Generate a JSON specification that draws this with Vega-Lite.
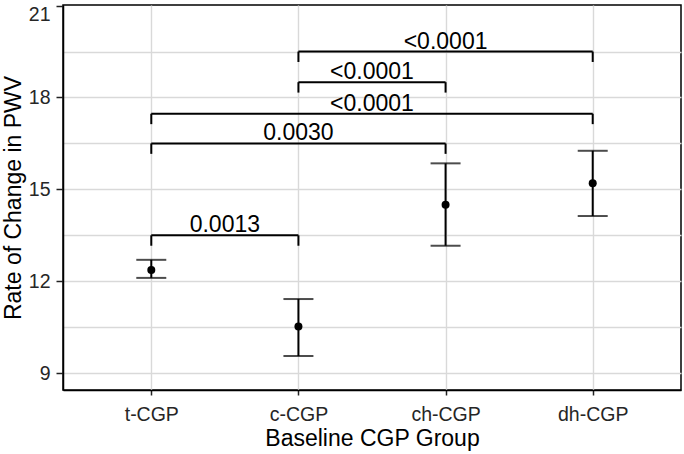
{
  "$schema": "https://vega.github.io/schema/vega-lite/v6.json",
  "width": 618,
  "height": 385,
  "autosize": {"type": "none"},
  "padding": {"left": 63, "top": 5, "right": 3, "bottom": 64},
  "background": "white",
  "config": {
    "view": {"stroke": "black", "strokeWidth": 1.5},
    "font": "Liberation Sans",
    "axis": {
      "gridColor": "#d9d9d9",
      "gridWidth": 1.4,
      "domainColor": "black",
      "domainWidth": 1.5,
      "tickColor": "#222222",
      "tickWidth": 1.5,
      "tickSize": 5,
      "labelFont": "Liberation Sans",
      "labelFontSize": 19.5,
      "labelColor": "#262626",
      "titleFont": "Liberation Sans",
      "titleFontSize": 23,
      "titleFontWeight": "normal",
      "titleColor": "black"
    }
  },
  "datasets": {
    "pts": [
      {"group": "t-CGP", "idx": 1, "mean": 12.37, "lo": 12.11, "hi": 12.70},
      {"group": "c-CGP", "idx": 2, "mean": 10.52, "lo": 9.56, "hi": 11.42},
      {"group": "ch-CGP", "idx": 3, "mean": 14.50, "lo": 13.16, "hi": 15.85},
      {"group": "dh-CGP", "idx": 4, "mean": 15.20, "lo": 14.13, "hi": 16.26}
    ],
    "br": [
      {"i1": 1, "i2": 2, "mid": 1.5, "y": 13.5, "yb": 13.16, "p": "0.0013"},
      {"i1": 1, "i2": 3, "mid": 2.0, "y": 16.5, "yb": 16.16, "p": "0.0030"},
      {"i1": 1, "i2": 4, "mid": 2.5, "y": 17.47, "yb": 17.13, "p": "<0.0001"},
      {"i1": 2, "i2": 3, "mid": 2.5, "y": 18.5, "yb": 18.16, "p": "<0.0001"},
      {"i1": 2, "i2": 4, "mid": 3.0, "y": 19.5, "yb": 19.16, "p": "<0.0001"}
    ]
  },
  "encoding": {
    "x": {
      "type": "quantitative",
      "scale": {"domain": [0.4, 4.6], "nice": false, "zero": false},
      "axis": {
        "title": "Baseline CGP Group",
        "values": [1, 2, 3, 4],
        "labelExpr": "['','t-CGP','c-CGP','ch-CGP','dh-CGP'][datum.value]",
        "labelPadding": 10,
        "titlePadding": 4
      }
    },
    "y": {
      "type": "quantitative",
      "scale": {"domain": [8.45, 21.02], "nice": false, "zero": false},
      "axis": {
        "title": "Rate of Change in PWV",
        "values": [9, 10.5, 12, 13.5, 15, 16.5, 18, 19.5, 21],
        "labelExpr": "datum.value % 3 == 0 ? datum.label : ''",
        "labelFlush": true,
        "tickSize": 7,
        "tickColor": {"condition": {"test": "datum.value % 3 == 0", "value": "#222222"}, "value": "transparent"},
        "gridColor": {"condition": {"test": "datum.value == 21", "value": "transparent"}, "value": "#d9d9d9"},
        "labelPadding": 6,
        "titlePadding": 3
      }
    }
  },
  "layer": [
    {
      "data": {"name": "pts"},
      "mark": {"type": "rule", "color": "black", "strokeWidth": 2},
      "encoding": {"x": {"field": "idx"}, "y": {"field": "lo"}, "y2": {"field": "hi"}}
    },
    {
      "data": {"name": "pts"},
      "mark": {"type": "tick", "orient": "horizontal", "color": "black", "size": 30, "thickness": 2},
      "encoding": {"x": {"field": "idx"}, "y": {"field": "lo"}}
    },
    {
      "data": {"name": "pts"},
      "mark": {"type": "tick", "orient": "horizontal", "color": "black", "size": 30, "thickness": 2},
      "encoding": {"x": {"field": "idx"}, "y": {"field": "hi"}}
    },
    {
      "data": {"name": "pts"},
      "mark": {"type": "circle", "color": "black", "size": 64, "opacity": 1},
      "encoding": {"x": {"field": "idx"}, "y": {"field": "mean"}}
    },
    {
      "data": {"name": "br"},
      "mark": {"type": "rule", "color": "black", "strokeWidth": 2},
      "encoding": {"x": {"field": "i1"}, "x2": {"field": "i2"}, "y": {"field": "y"}}
    },
    {
      "data": {"name": "br"},
      "transform": [{"fold": ["i1", "i2"], "as": ["end", "pos"]}],
      "mark": {"type": "rule", "color": "black", "strokeWidth": 2},
      "encoding": {"x": {"field": "pos", "type": "quantitative"}, "y": {"field": "y"}, "y2": {"field": "yb"}}
    },
    {
      "data": {"name": "br"},
      "mark": {"type": "text", "color": "black", "fontSize": 23, "font": "Liberation Sans", "baseline": "alphabetic", "align": "center", "dy": -3},
      "encoding": {"x": {"field": "mid"}, "y": {"field": "y"}, "text": {"field": "p"}}
    }
  ]
}
